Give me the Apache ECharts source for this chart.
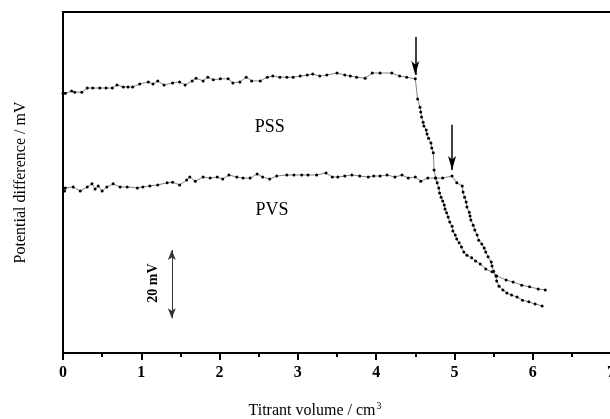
<!DOCTYPE html>
<html><head><meta charset="utf-8">
<script src="https://cdn.jsdelivr.net/npm/echarts@6/dist/echarts.min.js"></script>
<style>html,body{margin:0;padding:0;background:#fff}#c{width:610px;height:419px}</style>
</head><body><div id="c"></div>
<script>
// Titrant volume (cm3), potential (mV, arbitrary offset)
const pssX = [0,0.03,0.11,0.15,0.24,0.31,0.38,0.47,0.55,0.63,0.69,0.77,0.83,0.89,0.98,1.09,1.15,1.21,1.29,1.40,1.49,1.56,1.65,1.70,1.79,1.85,1.92,2.01,2.11,2.17,2.26,2.34,2.41,2.52,2.61,2.68,2.77,2.86,2.94,3.03,3.12,3.19,3.28,3.37,3.50,3.60,3.67,3.75,3.86,3.95,4.05,4.20,4.30,4.39,4.50,
  4.53,4.56,4.57,4.58,4.60,4.61,4.64,4.65,4.67,4.70,4.71,4.73,4.74,4.76,4.78,4.80,4.81,4.83,4.85,4.87,4.88,4.90,4.92,4.94,4.97,4.98,5.01,5.03,5.06,5.09,5.12,5.16,5.22,5.27,5.33,5.40,5.48,5.54,5.66,5.75,5.86,5.96,6.07,6.16];
const pssY = [76.2,76.2,76.8,76.5,76.5,77.7,77.7,77.7,77.7,77.7,78.6,78.0,78.0,78.0,78.9,79.5,78.9,79.8,78.6,79.2,79.5,78.6,79.8,80.6,79.8,80.9,80.1,80.4,80.4,79.2,79.5,80.9,79.8,79.8,80.9,81.2,80.9,80.9,80.9,81.2,81.5,81.8,81.2,81.5,82.1,81.5,81.2,80.9,80.6,82.1,82.1,82.1,81.2,80.9,80.4,
  74.5,72.1,70.7,69.2,67.7,66.6,65.4,64.2,63.0,61.6,60.1,58.7,53.7,51.3,49.9,48.4,46.9,45.7,44.6,43.4,42.2,41.1,39.9,38.4,37.2,35.8,34.6,33.4,32.3,31.1,29.6,28.7,27.9,27.0,26.1,24.6,23.8,22.6,21.4,20.8,19.9,19.4,18.8,18.5];
const pvsX = [0.02,0.03,0.13,0.22,0.31,0.37,0.41,0.45,0.50,0.56,0.64,0.73,0.82,0.95,1.02,1.11,1.21,1.33,1.40,1.49,1.58,1.62,1.69,1.79,1.88,1.97,2.04,2.12,2.22,2.30,2.39,2.48,2.55,2.64,2.73,2.86,2.95,3.05,3.13,3.24,3.36,3.44,3.51,3.60,3.69,3.79,3.90,3.97,4.05,4.14,4.24,4.33,4.41,4.50,4.57,4.66,4.76,4.85,4.97,5.03,5.10,
  5.11,5.13,5.15,5.16,5.19,5.20,5.21,5.24,5.26,5.29,5.31,5.35,5.38,5.40,5.43,5.47,5.48,5.50,5.53,5.54,5.57,5.62,5.67,5.73,5.80,5.87,5.95,6.03,6.12];
const pvsY = [47.5,48.4,48.7,47.5,48.7,49.6,48.1,49.0,47.5,48.7,49.6,48.7,48.7,48.4,48.7,49.0,49.3,49.9,50.1,49.3,50.7,51.6,50.4,51.6,51.3,51.6,51.0,52.2,51.6,51.3,51.3,52.5,51.6,51.0,51.9,52.2,52.2,52.2,52.2,52.2,52.8,51.6,51.6,51.9,52.2,51.9,51.6,51.9,51.9,52.2,51.6,52.2,51.3,51.6,50.4,51.3,51.3,51.3,51.9,49.9,49.0,
  47.2,45.7,44.3,42.8,41.3,40.2,39.0,37.5,36.1,34.6,33.1,32.0,30.8,29.6,28.2,26.7,25.5,24.0,22.6,21.1,19.6,18.5,17.6,17.0,16.4,15.5,15.0,14.4,13.8];
// annotations: end-point arrows [x, yStart, yEnd]
const pssArrow = [4.50, 92.7, 81.5];
const pvsArrow = [4.97, 66.9, 53.7];
// scale bar [x, yLow, yHigh], label position
const scaleBar = [1.39, 10.2, 30.2];
const scaleLabel = [1.15, 20.5, '20 mV'];
const seriesLabels = [['PSS', 2.64, 66.3], ['PVS', 2.67, 41.9]];
const xTicks = [0,1,2,3,4,5,6,7];

const zip = (a, b) => a.map((v, i) => [v, b[i]]);
const chart = echarts.init(document.getElementById('c'));
const serif = 'Liberation Serif';
const lineSeries = (name, xs, ys, arrow, lab) => ({
  name, type: 'line', data: zip(xs, ys), symbol: 'circle', symbolSize: 3,
  itemStyle: { color: '#000' }, lineStyle: { color: '#666', width: 0.8 },
  animation: false,
  markLine: {
    silent: true, symbol: ['none', 'arrow'], symbolSize: [6, 14],
    lineStyle: { color: '#000', width: 1.5, type: 'solid' }, label: { show: false },
    data: [[{ coord: [arrow[0], arrow[1]] }, { coord: [arrow[0], arrow[2]] }]]
  },
  markPoint: {
    symbol: 'circle', symbolSize: 0, silent: true,
    label: { show: true, formatter: lab[0], color: '#000', fontFamily: serif, fontSize: 18 },
    data: [{ coord: [lab[1], lab[2]] }]
  }
});
chart.setOption({
  animation: false,
  grid: { left: 63, width: 548, top: 12, bottom: 66, outerBoundsMode: 'none', containLabel: false,
    show: true, borderColor: '#000', borderWidth: 2, backgroundColor: 'transparent' },
  xAxis: {
    type: 'value', min: xTicks[0], max: xTicks[xTicks.length - 1], interval: 1,
    axisLine: { lineStyle: { color: '#000', width: 2 } },
    axisTick: { length: 7, lineStyle: { width: 2, color: '#000' } },
    minorTick: { show: true, splitNumber: 2, length: 4, lineStyle: { width: 2, color: '#000' } },
    splitLine: { show: false },
    axisLabel: { color: '#000', fontFamily: serif, fontWeight: 'bold', fontSize: 16, margin: 12 },
    name: '{a|Titrant volume / cm}{s|3}', nameLocation: 'middle', nameGap: 48,
    nameTextStyle: { padding: [0, 44, 0, 0], rich: {
      a: { fontFamily: serif, fontSize: 16, color: '#000' },
      s: { fontFamily: serif, fontSize: 10, color: '#000', verticalAlign: 'top', padding: [0, 0, 10, 1] } } }
  },
  yAxis: {
    type: 'value', min: 0, max: 100,
    axisLine: { show: true, lineStyle: { color: '#000', width: 2 } },
    axisTick: { show: false }, axisLabel: { show: false }, splitLine: { show: false },
    name: 'Potential difference / mV', nameLocation: 'middle', nameGap: 34,
    nameTextStyle: { fontFamily: serif, fontSize: 16, color: '#000' }
  },
  series: [
    lineSeries('PSS', pssX, pssY, pssArrow, seriesLabels[0]),
    lineSeries('PVS', pvsX, pvsY, pvsArrow, seriesLabels[1]),
    {
      type: 'line', data: [], silent: true,
      markLine: {
        silent: true, symbol: ['arrow', 'arrow'], symbolSize: [6, 10],
        lineStyle: { color: '#333', width: 1, type: 'solid' }, label: { show: false },
        data: [[{ coord: [scaleBar[0], scaleBar[1]] }, { coord: [scaleBar[0], scaleBar[2]] }]]
      },
      markPoint: {
        symbol: 'circle', symbolSize: 0, silent: true,
        label: { show: true, formatter: scaleLabel[2], rotate: 90, color: '#000', fontFamily: serif, fontWeight: 'bold', fontSize: 14 },
        data: [{ coord: [scaleLabel[0], scaleLabel[1]] }]
      }
    }
  ]
});
</script></body></html>
